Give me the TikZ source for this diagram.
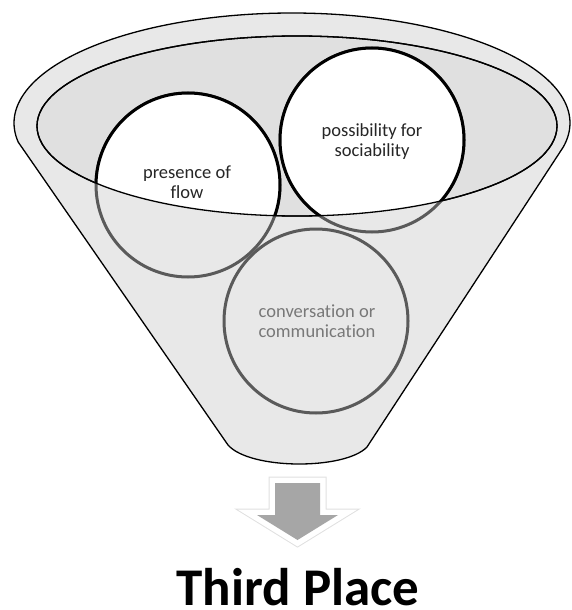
\documentclass[tikz,border=0pt]{standalone}
\usepackage{fontspec}
\setmainfont[Ligatures={NoCommon,NoContextual,NoRequired}]{Carlito}
\definecolor{funnelgray}{RGB}{232,232,232}
\definecolor{mouthgray}{RGB}{224,224,224}
\definecolor{ringgray}{RGB}{90,90,90}
\definecolor{arrowgray}{RGB}{166,166,166}
\definecolor{textgray}{RGB}{120,120,120}
\begin{document}
\begin{tikzpicture}[x=1pt,y=-1pt,
  ring/.style={circle,minimum size=184pt,inner sep=0pt,line width=3pt},
  backring/.style={ring,draw=ringgray,fill=funnelgray},
  frontring/.style={ring,draw=black,fill=white},
  ringtext/.style={align=center,font=\fontsize{18.5}{20}\selectfont,text=black!85}]
\useasboundingbox (0,0) rectangle (571,610);
\draw[line width=1.3pt,fill=funnelgray] plot[domain=-190:12.6,samples=120,smooth] ({292+278*cos(\x)},{123+110*sin(\x)}) -- (367,447) .. controls (345,470) and (250,470) .. (228,445) -- cycle;
\draw[line width=1.3pt,fill=mouthgray] (297,126) ellipse [x radius=260pt,y radius=90pt];
\node[backring] (flow) at (188,185) {};
\node[backring] (social) at (372,140) {};
\node[backring] (talk) at (316,321) {};
\begin{scope}
\clip (297,126) ellipse [x radius=260pt,y radius=90pt];
\node[frontring] at (flow) {};
\node[frontring] at (social) {};
\end{scope}
\draw[line width=1.3pt] (297,126) ellipse [x radius=260pt,y radius=90pt];
\node[ringtext] (flowtext) at (187,182) {presence of\\flow};
\node[ringtext] (socialtext) at (372,142) {possibility for\\sociability};
\node[ringtext,text=textgray] (talktext) at (317,321) {conversation or\\communication};
\draw[line width=13pt,black!12,line join=miter] (275,483) -- (320,483) -- (320,515) -- (338,515) -- (297.5,540) -- (257,515) -- (275,515) -- cycle;
\draw[line width=11pt,white,line join=miter] (275,483) -- (320,483) -- (320,515) -- (338,515) -- (297.5,540) -- (257,515) -- (275,515) -- cycle;
\fill[arrowgray] (275,483) -- (320,483) -- (320,515) -- (338,515) -- (297.5,540) -- (257,515) -- (275,515) -- cycle;
\node[anchor=base,inner sep=0pt,font=\bfseries\fontsize{53}{60}\selectfont] (place) at (298,605) {Third Place};
\end{tikzpicture}
\end{document}
